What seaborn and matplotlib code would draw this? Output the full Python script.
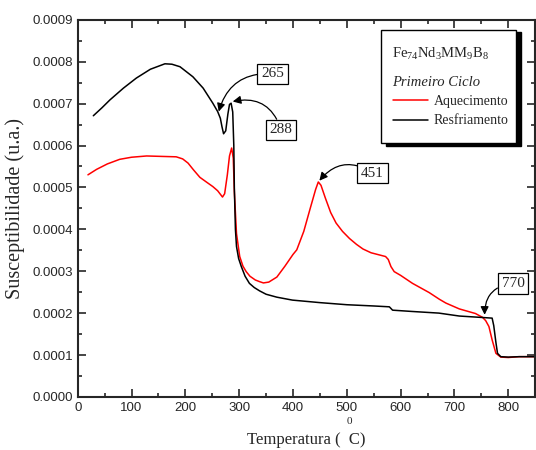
import numpy as np
import pandas as pd
import matplotlib
matplotlib.use('Agg')
import matplotlib.pyplot as plt
import seaborn as sns
from matplotlib.ticker import MultipleLocator, FormatStrFormatter
from matplotlib.patches import Rectangle

# Aquecimento (vermelho)
x_aq = [19, 35, 55, 78, 100, 128, 155, 183, 195, 205, 215, 227, 240, 251, 260, 266, 269,
        273, 278, 282, 286, 289, 291, 295, 301, 307, 313, 320, 330, 338, 345, 355, 370,
        385, 400, 407, 420, 432, 442, 447, 452, 460, 470, 480, 492, 505, 518, 530, 545,
        560, 572, 577, 582, 588, 600, 622, 653, 672, 684, 709, 739, 752, 758, 764, 770,
        777, 786, 800, 820, 850]
y_aq = [5.30, 5.43, 5.56, 5.67, 5.72, 5.75, 5.74, 5.73, 5.68, 5.58, 5.42, 5.24, 5.12, 5.02,
        4.92, 4.82, 4.77, 4.85, 5.30, 5.75, 5.94, 5.70, 4.90, 3.90, 3.35, 3.12, 2.99, 2.88,
        2.79, 2.75, 2.72, 2.74, 2.86, 3.12, 3.40, 3.51, 3.95, 4.50, 4.95, 5.13, 5.05, 4.75,
        4.40, 4.15, 3.95, 3.78, 3.64, 3.53, 3.44, 3.39, 3.35, 3.28, 3.11, 2.99, 2.90, 2.71,
        2.49, 2.33, 2.24, 2.10, 1.99, 1.90, 1.82, 1.68, 1.36, 1.04, 0.95, 0.94, 0.96, 0.96]
y_aq = [v * 1e-4 for v in y_aq]

# Resfriamento (preto)
x_rf = [29, 45, 60, 85, 109, 135, 162, 175, 190, 214, 233, 251, 260, 265, 268, 271, 275,
        279, 282, 285, 288, 290, 291, 293, 295, 299, 304, 311, 319, 328, 338, 350, 370,
        399, 450, 500, 550, 579, 585, 620, 671, 709, 746, 770, 773, 777, 780, 786, 800,
        820, 850]
y_rf = [6.71, 6.90, 7.09, 7.37, 7.61, 7.82, 7.95, 7.94, 7.88, 7.64, 7.37, 7.01, 6.81, 6.65,
        6.45, 6.28, 6.35, 6.75, 6.98, 7.01, 6.80, 6.00, 5.00, 4.00, 3.59, 3.30, 3.11, 2.88,
        2.71, 2.61, 2.53, 2.45, 2.38, 2.31, 2.25, 2.20, 2.17, 2.15, 2.07, 2.04, 2.00, 1.93,
        1.90, 1.88, 1.70, 1.30, 1.04, 0.96, 0.95, 0.96, 0.96]
y_rf = [v * 1e-4 for v in y_rf]

# Anotações: (texto, ponta da seta, posição do texto, curvatura)
notas = [
    ('265', (262, 6.81e-4), (362, 7.71e-4), 0.4),
    ('288', (288, 7.05e-4), (378, 6.37e-4), 0.45),
    ('451', (449, 5.16e-4), (548, 5.34e-4), 0.45),
    ('770', (756, 1.96e-4), (809, 2.71e-4), 0.45),
]

sns.set_style('ticks')
plt.rcParams['font.family'] = ['Liberation Sans', 'DejaVu Sans']
plt.rcParams['mathtext.fontset'] = 'custom'
plt.rcParams['mathtext.rm'] = 'Liberation Serif'
plt.rcParams['mathtext.it'] = 'Liberation Serif:italic'

fig = plt.figure(figsize=(5.36, 4.5), dpi=100)
ax = fig.add_axes([0.145, 0.118, 0.8535, 0.838])

aq = pd.DataFrame({'x': x_aq, 'y': y_aq})
rf = pd.DataFrame({'x': x_rf, 'y': y_rf})
sns.lineplot(data=aq, x='x', y='y', ax=ax, color='red', lw=1.1, sort=False,
             estimator=None, label='Aquecimento')
sns.lineplot(data=rf, x='x', y='y', ax=ax, color='black', lw=1.1, sort=False,
             estimator=None, label='Resfriamento')

ax.set_xlim(0, 850)
ax.set_ylim(0, 0.0009)
ax.xaxis.set_major_locator(MultipleLocator(100))
ax.xaxis.set_minor_locator(MultipleLocator(50))
ax.yaxis.set_major_locator(MultipleLocator(0.0001))
ax.yaxis.set_minor_locator(MultipleLocator(0.00005))
ax.yaxis.set_major_formatter(FormatStrFormatter('%.4f'))
ax.tick_params(which='both', direction='in', top=True, right=True, labelsize=9.5, width=1.2)
ax.tick_params(which='major', length=6)
ax.tick_params(which='minor', length=3)
for s in ax.spines.values():
    s.set_linewidth(1.5)

ax.set_xlabel('Temperatura (  C)', family='Liberation Serif', fontsize=12, labelpad=13)
ax.set_ylabel('Susceptibilidade (u.a.)', family='Liberation Serif', fontsize=14.5, labelpad=5)
fig.text(0.651, 0.064, '0', family='Liberation Serif', fontsize=8, ha='center', va='center')

for txt, ponta, pos, rad in notas:
    ax.annotate(txt, xy=ponta, xytext=pos, ha='center', va='center',
                family='Liberation Serif', fontsize=11,
                bbox=dict(boxstyle='square,pad=0.25', fc='white', ec='black', lw=0.9),
                arrowprops=dict(arrowstyle='-|>', color='black', lw=0.9,
                                connectionstyle=f'arc3,rad={rad}', mutation_scale=12,
                                shrinkA=0, shrinkB=0))

# caixa da legenda com sombra
ax.add_patch(Rectangle((0.674, 0.665), 0.295, 0.303, transform=ax.transAxes,
                       fc='black', ec='black', zorder=4))
ax.add_patch(Rectangle((0.664, 0.673), 0.295, 0.30, transform=ax.transAxes,
                       fc='white', ec='black', lw=1.0, zorder=5))
ax.text(0.688, 0.910, r'Fe$_{74}$Nd$_{3}$MM$_{9}$B$_{8}$', transform=ax.transAxes,
        family='Liberation Serif', fontsize=10.5, va='center', zorder=6)
ax.text(0.688, 0.833, 'Primeiro Ciclo', transform=ax.transAxes, style='italic',
        family='Liberation Serif', fontsize=10.5, va='center', zorder=6)
leg = ax.legend(loc='upper left', bbox_to_anchor=(0.689, 0.80), frameon=False,
                prop={'family': 'Liberation Serif', 'size': 10}, handlelength=2.5,
                handletextpad=0.45, labelspacing=0.45, borderpad=0, borderaxespad=0)
leg.set_zorder(7)

fig.savefig('out.png', dpi=100)
